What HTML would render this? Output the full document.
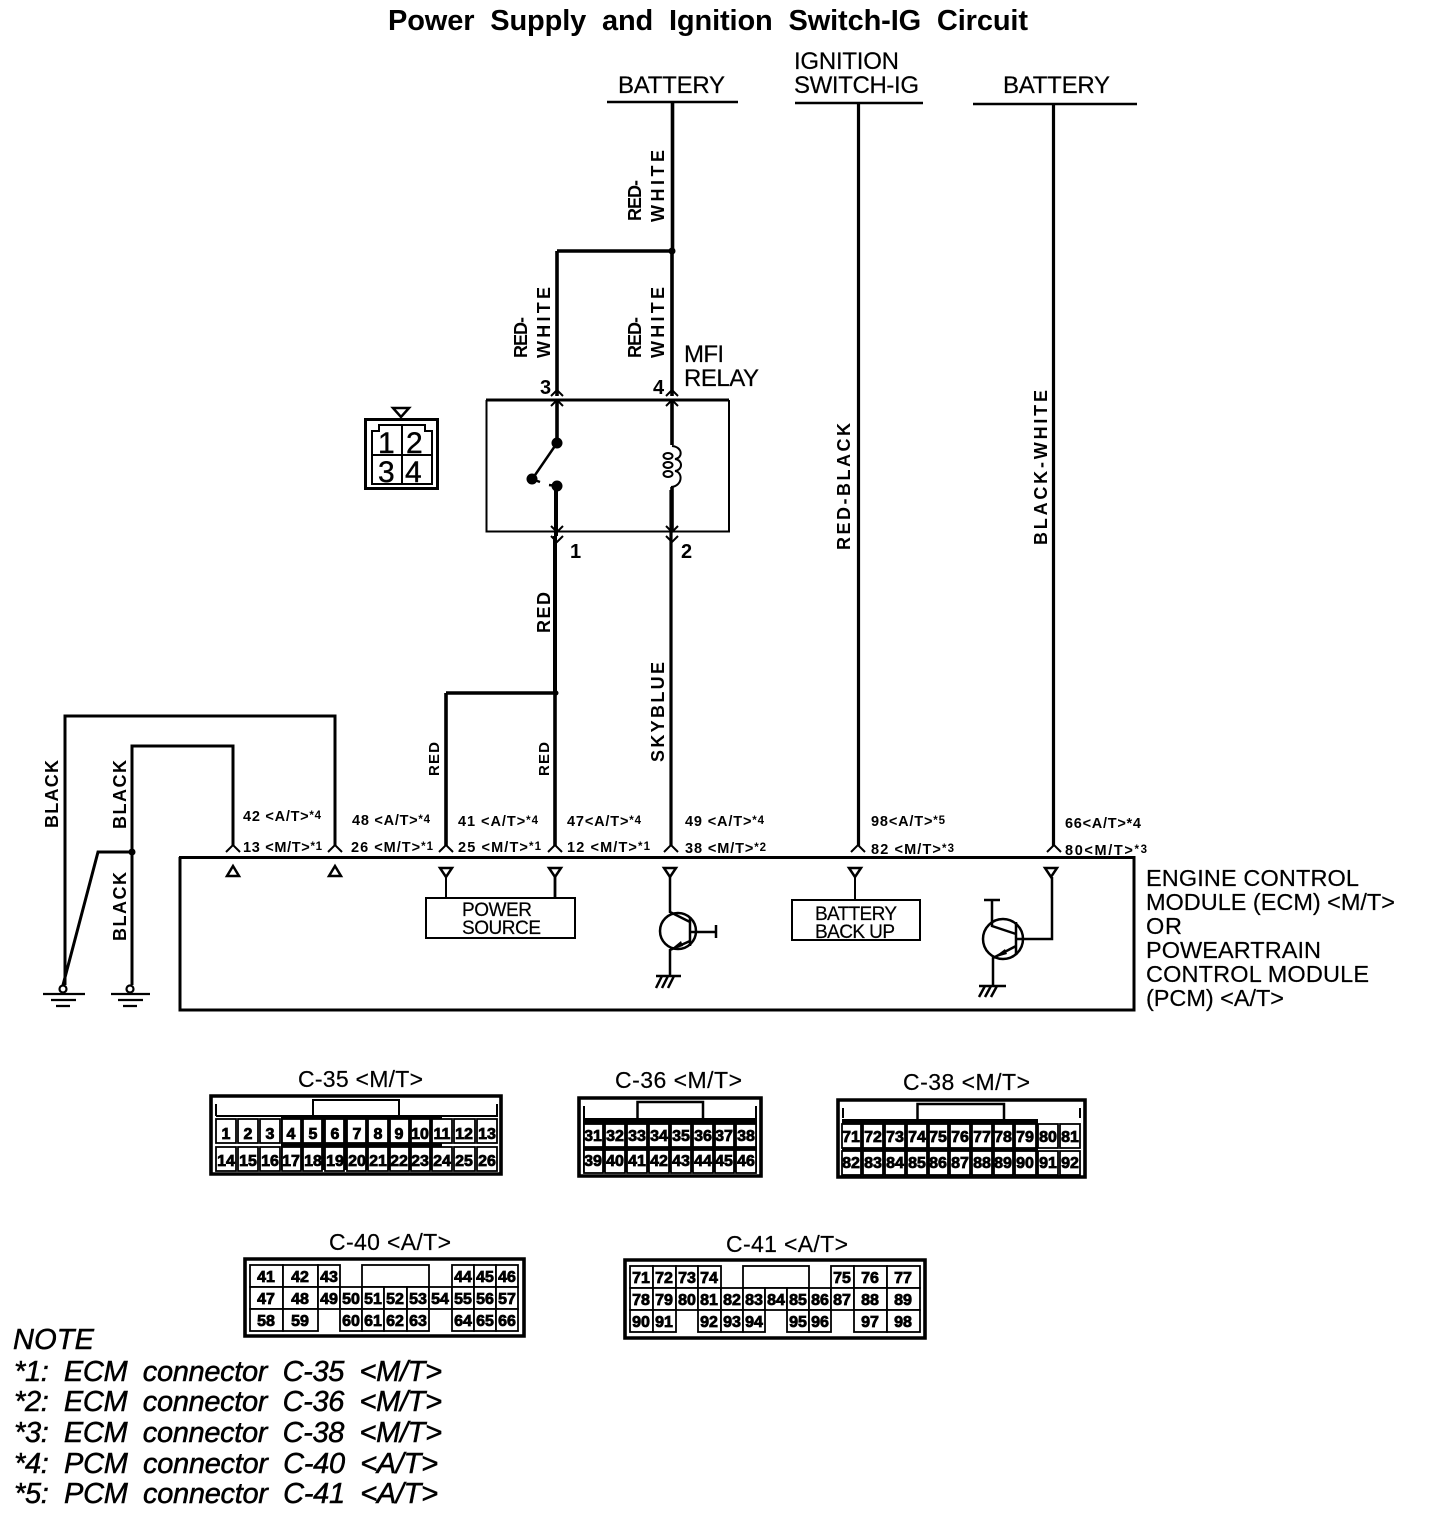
<!DOCTYPE html>
<html><head><meta charset="utf-8"><title>Power Supply and Ignition Switch-IG Circuit</title>
<style>
html,body{margin:0;padding:0;background:#fff}
svg{display:block}
text{font-family:"Liberation Sans",sans-serif;fill:#000}
.t{font-size:24px;stroke:#000;stroke-width:.2}
.p{font-size:14.5px;font-weight:bold}
.p tspan{font-size:11.5px}
.v{font-size:18px;font-weight:bold}
.n{font-size:29px;font-style:italic;stroke:#000;stroke-width:.5}
.c{font-size:16px;font-weight:bold;text-anchor:middle;stroke:#000;stroke-width:.8}
.h{font-size:23px;stroke:#000;stroke-width:.2}
.w{fill:none;stroke:#000;stroke-width:3.6}
.l{fill:none;stroke:#000;stroke-width:2}
.b{fill:#000}
.wc{fill:#fff;stroke:#000;stroke-width:1.8}
</style></head><body>
<svg xmlns="http://www.w3.org/2000/svg" width="1440" height="1534" viewBox="0 0 1440 1534">
<rect width="1440" height="1534" fill="#fff"/>
<text x="388" y="30" font-size="29" font-weight="bold" textLength="640" xml:space="preserve">Power  Supply  and  Ignition  Switch-IG  Circuit</text>

<text class="t" x="618" y="93" textLength="107">BATTERY</text>
<text class="t" x="794" y="69" textLength="105">IGNITION</text>
<text class="t" x="794" y="93" textLength="125">SWITCH-IG</text>
<text class="t" x="1003" y="93" textLength="107">BATTERY</text>
<path class="w" style="stroke-width:2.600" d="M607 102H738M795 103H923M973 104H1137"/>

<!-- main wires -->
<path class="w" d="M672.500 103V251M672 251V396M557 251H672M557 251V396"/>
<path class="w" style="stroke-width:3.200" d="M858.500 104V846M1053.500 105V846"/>
<path class="w" style="stroke-width:4" d="M556 486V536M555 536V693"/>
<path class="w" d="M555 693V846M446 693H556M446 693V846"/>
<path class="w" style="stroke-width:3.200" d="M671 490V846"/>
<path class="w" style="stroke-width:3" d="M335 846V716H65V985M233 846V746H132V985"/>
<path class="w" style="stroke-width:3" d="M132 852H98L63 985"/>
<circle class="b" cx="672" cy="251" r="3.500"/><circle class="b" cx="132" cy="852" r="3.500"/><circle class="b" cx="556" cy="693" r="2.500"/>

<!-- relay -->
<path class="l" d="M486.500 400V531.500H729V400"/>
<path class="w" style="stroke-width:3" d="M486 400H729"/>
<path class="w" d="M557 400V443"/>
<path class="w" d="M672 400V445"/>
<path class="w" d="M672 487V532"/>
<circle class="b" cx="557" cy="443" r="5.500"/>
<circle class="b" cx="532" cy="479" r="5.500"/>
<circle class="b" cx="557" cy="486" r="5.500"/>
<path class="l" style="stroke-width:2.500" d="M557 443L533 478M532 479L540 482M557 486L549 485"/>
<path class="l" d="M672 446C683 447 683 458 675 459C683 460 683 470 675 471C683 472 683 486 671 487"/>
<ellipse class="l" cx="668" cy="456" rx="4.500" ry="3"/><ellipse class="l" cx="668" cy="465" rx="4.500" ry="3"/><ellipse class="l" cx="668" cy="474" rx="4.500" ry="3"/>
<path class="l" d="M551 396L557 390L563 396M551 406L557 400L563 406M666 396L672 390L678 396M666 406L672 400L678 406M551 526L557 532L563 526M551 536L557 542L563 536M666 526L672 532L678 526M666 536L672 542L678 536"/>
<g font-size="20" font-weight="bold">
<text x="540" y="394">3</text><text x="653" y="394">4</text><text x="570" y="558">1</text><text x="681" y="558">2</text>
</g>
<text class="t" x="684" y="362" textLength="40">MFI</text>
<text class="t" x="684" y="386" textLength="75">RELAY</text>

<!-- relay connector -->
<path class="w" style="stroke-width:3" d="M365.500 419.500H437.500V488.500H365.500Z"/>
<path class="l" d="M372 431H379V425H425V431H432V484H372ZM372 455H432M402 425V484"/>
<path class="l" style="stroke-width:2.500" d="M393 408H409L401 417Z"/>
<g font-size="30" stroke="#000" stroke-width=".4">
<text x="378" y="453">1</text><text x="406" y="453">2</text>
<text x="378" y="482">3</text><text x="405" y="482">4</text>
</g>

<!-- vertical labels -->
<g class="v">
<text transform="translate(641 221) rotate(-90)" textLength="41">RED-</text>
<text transform="translate(664 222) rotate(-90)" textLength="72">WHITE</text>
<text transform="translate(641 358) rotate(-90)" textLength="41">RED-</text>
<text transform="translate(664 358) rotate(-90)" textLength="71">WHITE</text>
<text transform="translate(527 358) rotate(-90)" textLength="41">RED-</text>
<text transform="translate(550 358) rotate(-90)" textLength="71">WHITE</text>
<text transform="translate(850 550) rotate(-90)" textLength="127">RED-BLACK</text>
<text transform="translate(1047 545) rotate(-90)" textLength="155">BLACK-WHITE</text>
<text transform="translate(664 762) rotate(-90)" textLength="100">SKYBLUE</text>
<text transform="translate(550 633) rotate(-90)" textLength="41">RED</text>
<text transform="translate(439 776) rotate(-90)" textLength="34" style="font-size:15px">RED</text>
<text transform="translate(549 776) rotate(-90)" textLength="34" style="font-size:15px">RED</text>
<text transform="translate(58 828) rotate(-90)" textLength="68">BLACK</text>
<text transform="translate(126 829) rotate(-90)" textLength="69">BLACK</text>
<text transform="translate(126 941) rotate(-90)" textLength="69">BLACK</text>
</g>

<!-- module box -->
<path class="w" style="stroke-width:3" d="M179 857.500H1134V1010H180V857"/>
<path class="l" d="M226 852L233 845L240 852M328 852L335 845L342 852M439 852L446 845L453 852M548 852L555 845L562 852M664 852L671 845L678 852M851 852L858 845L865 852M1047 852L1054 845L1061 852"/>
<path class="l" style="stroke-width:2.500" d="M233 866L227 876H239ZM335 866L329 876H341ZM440 868H452L446 877ZM549 868H561L555 877ZM664 868H676L670 877ZM849 868H861L855 877ZM1045 868H1057L1051 877Z"/>
<path class="l" d="M446 877V898"/><path class="l" style="stroke-width:2.800" d="M555 877V898"/>
<path class="l" d="M855 877V900"/>
<rect class="l" x="426" y="898" width="149" height="40"/>
<rect class="l" x="792" y="900" width="128" height="40"/>
<g font-size="19" stroke="#000" stroke-width=".2">
<text x="462" y="916" textLength="70">POWER</text><text x="462" y="934" textLength="79">SOURCE</text>
<text x="815" y="920" textLength="82">BATTERY</text><text x="815" y="938" textLength="80">BACK UP</text>
</g>

<!-- pin labels -->
<g class="p">
<text x="243" y="821" textLength="78">42 &lt;A/T&gt;<tspan dy="-2">*4</tspan></text>
<text x="352" y="825" textLength="78">48 &lt;A/T&gt;<tspan dy="-2">*4</tspan></text>
<text x="458" y="826" textLength="80">41 &lt;A/T&gt;<tspan dy="-2">*4</tspan></text>
<text x="567" y="826" textLength="74">47&lt;A/T&gt;<tspan dy="-2">*4</tspan></text>
<text x="685" y="826" textLength="79">49 &lt;A/T&gt;<tspan dy="-2">*4</tspan></text>
<text x="871" y="826" textLength="74">98&lt;A/T&gt;<tspan dy="-2">*5</tspan></text>
<text x="1065" y="828" textLength="76">66&lt;A/T&gt;*4</text>
<text x="243" y="852" textLength="79">13 &lt;M/T&gt;<tspan dy="-2">*1</tspan></text>
<text x="351" y="852" textLength="82">26 &lt;M/T&gt;<tspan dy="-2">*1</tspan></text>
<text x="458" y="852" textLength="83">25 &lt;M/T&gt;<tspan dy="-2">*1</tspan></text>
<text x="567" y="852" textLength="83">12 &lt;M/T&gt;<tspan dy="-2">*1</tspan></text>
<text x="685" y="853" textLength="81">38 &lt;M/T&gt;<tspan dy="-2">*2</tspan></text>
<text x="871" y="854" textLength="83">82 &lt;M/T&gt;<tspan dy="-2">*3</tspan></text>
<text x="1065" y="855" textLength="82">80&lt;M/T&gt;<tspan dy="-2">*3</tspan></text>
</g>

<!-- transistors -->
<g class="l" style="stroke-width:2.500">
<circle cx="678" cy="931" r="18"/>
<path d="M670 877V912L690 922M690 917V946M690 932H716M716 925V938M690 941L670 950V976"/>
<path d="M656 976H681M656 988L662 976M662 988L668 976M668 988L674 976"/>
<circle cx="1003" cy="939" r="20"/>
<path d="M1052 877V939H1016M1016 922V955M992 900V926L1016 934M984 900H1000M1016 946L993 958V986"/>
<path d="M979 986H1006M979 997L985 986M985 997L991 986M991 997L997 986"/>
</g>
<path class="b" d="M670 950L681 941L683 946ZM993 958L1005 949L1007 954Z"/>

<!-- grounds -->
<g class="l" style="stroke-width:2.200">
<circle cx="63" cy="989" r="3.500"/><path d="M43 994H85M51 1000H76M56 1006H70"/>
<circle cx="130" cy="989" r="3.500"/><path d="M111 994H150M118 1000H143M123 1006H137"/>
</g>

<!-- module text -->
<g font-size="23.500" stroke="#000" stroke-width=".2">
<text x="1146" y="886" textLength="213">ENGINE CONTROL</text>
<text x="1146" y="910" textLength="249">MODULE (ECM) &lt;M/T&gt;</text>
<text x="1146" y="934" textLength="36">OR</text>
<text x="1146" y="958" textLength="175">POWEARTRAIN</text>
<text x="1146" y="982" textLength="223">CONTROL MODULE</text>
<text x="1146" y="1006" textLength="138">(PCM) &lt;A/T&gt;</text>
</g>

<!-- C-35 -->
<text class="h" x="298" y="1087" textLength="125">C-35 &lt;M/T&gt;</text>
<path class="w" d="M211 1096H501V1174H211Z"/>
<path class="l" d="M216 1116V1104M216 1116H497V1104M313 1116V1100H399V1116"/>
<rect class="b" x="281" y="1116" width="161" height="54"/>
<g class="wc">
<rect x="216" y="1119" width="20" height="24"/><rect x="238" y="1119" width="20" height="24"/><rect x="260" y="1119" width="20" height="24"/><rect x="282" y="1119" width="19" height="24"/><rect x="303" y="1119" width="19" height="24"/><rect x="325" y="1119" width="19" height="24"/><rect x="347" y="1119" width="19" height="24"/><rect x="368" y="1119" width="20" height="24"/><rect x="390" y="1119" width="19" height="24"/><rect x="411" y="1119" width="19" height="24"/><rect x="432" y="1119" width="20" height="24"/><rect x="454" y="1119" width="21" height="24"/><rect x="477" y="1119" width="20" height="24"/>
<rect x="216" y="1147" width="20" height="24"/><rect x="238" y="1147" width="20" height="24"/><rect x="260" y="1147" width="20" height="24"/><rect x="282" y="1147" width="19" height="24"/><rect x="303" y="1147" width="19" height="24"/><rect x="325" y="1147" width="19" height="24"/><rect x="347" y="1147" width="19" height="24"/><rect x="368" y="1147" width="20" height="24"/><rect x="390" y="1147" width="19" height="24"/><rect x="411" y="1147" width="19" height="24"/><rect x="432" y="1147" width="20" height="24"/><rect x="454" y="1147" width="21" height="24"/><rect x="477" y="1147" width="20" height="24"/>
</g>
<g class="c">
<text x="226" y="1139">1</text><text x="248" y="1139">2</text><text x="270" y="1139">3</text><text x="291" y="1139">4</text><text x="313" y="1139">5</text><text x="335" y="1139">6</text><text x="357" y="1139">7</text><text x="378" y="1139">8</text><text x="399" y="1139">9</text><text x="420" y="1139">10</text><text x="442" y="1139">11</text><text x="464" y="1139">12</text><text x="487" y="1139">13</text>
<text x="226" y="1166">14</text><text x="248" y="1166">15</text><text x="270" y="1166">16</text><text x="291" y="1166">17</text><text x="313" y="1166">18</text><text x="335" y="1166">19</text><text x="357" y="1166">20</text><text x="378" y="1166">21</text><text x="399" y="1166">22</text><text x="420" y="1166">23</text><text x="442" y="1166">24</text><text x="464" y="1166">25</text><text x="487" y="1166">26</text>
</g>

<!-- C-36 -->
<text class="h" x="615" y="1088" textLength="127">C-36 &lt;M/T&gt;</text>
<path class="w" d="M579 1098H761V1176H579Z"/>
<path class="l" d="M584 1118V1106M756 1118V1106"/>
<path class="w" style="stroke-width:2.500" d="M637.500 1118V1102H703V1118"/>
<rect class="b" x="583" y="1118" width="174" height="54"/>
<g class="wc">
<rect x="584" y="1124" width="19" height="23"/><rect x="605" y="1124" width="20" height="23"/><rect x="627" y="1124" width="20" height="23"/><rect x="649" y="1124" width="20" height="23"/><rect x="671" y="1124" width="20" height="23"/><rect x="693" y="1124" width="20" height="23"/><rect x="715" y="1124" width="19" height="23"/><rect x="736" y="1124" width="20" height="23"/>
<rect x="584" y="1150" width="19" height="23"/><rect x="605" y="1150" width="20" height="23"/><rect x="627" y="1150" width="20" height="23"/><rect x="649" y="1150" width="20" height="23"/><rect x="671" y="1150" width="20" height="23"/><rect x="693" y="1150" width="20" height="23"/><rect x="715" y="1150" width="19" height="23"/><rect x="736" y="1150" width="20" height="23"/>
</g>
<g class="c">
<text x="593" y="1141">31</text><text x="615" y="1141">32</text><text x="637" y="1141">33</text><text x="659" y="1141">34</text><text x="681" y="1141">35</text><text x="703" y="1141">36</text><text x="724" y="1141">37</text><text x="746" y="1141">38</text>
<text x="593" y="1166">39</text><text x="615" y="1166">40</text><text x="637" y="1166">41</text><text x="659" y="1166">42</text><text x="681" y="1166">43</text><text x="703" y="1166">44</text><text x="724" y="1166">45</text><text x="746" y="1166">46</text>
</g>

<!-- C-38 -->
<text class="h" x="903" y="1090" textLength="127">C-38 &lt;M/T&gt;</text>
<path class="w" d="M838 1100H1085V1177H838Z"/>
<path class="l" d="M843 1118V1108M1080 1118V1108"/>
<path class="w" style="stroke-width:2.500" d="M917.500 1119V1104H1004V1119"/>
<rect class="b" x="842" y="1119" width="196" height="56"/>
<g class="wc">
<rect x="842" y="1124" width="19" height="24"/><rect x="863" y="1124" width="20" height="24"/><rect x="885" y="1124" width="20" height="24"/><rect x="907" y="1124" width="20" height="24"/><rect x="929" y="1124" width="19" height="24"/><rect x="950" y="1124" width="20" height="24"/><rect x="972" y="1124" width="20" height="24"/><rect x="994" y="1124" width="19" height="24"/><rect x="1015" y="1124" width="21" height="24"/><rect x="1038" y="1124" width="20" height="24"/><rect x="1060" y="1124" width="20" height="24"/>
<rect x="842" y="1151" width="19" height="24"/><rect x="863" y="1151" width="20" height="24"/><rect x="885" y="1151" width="20" height="24"/><rect x="907" y="1151" width="20" height="24"/><rect x="929" y="1151" width="19" height="24"/><rect x="950" y="1151" width="20" height="24"/><rect x="972" y="1151" width="20" height="24"/><rect x="994" y="1151" width="19" height="24"/><rect x="1015" y="1151" width="21" height="24"/><rect x="1038" y="1151" width="20" height="24"/><rect x="1060" y="1151" width="20" height="24"/>
</g>
<g class="c">
<text x="851" y="1142">71</text><text x="873" y="1142">72</text><text x="895" y="1142">73</text><text x="917" y="1142">74</text><text x="938" y="1142">75</text><text x="960" y="1142">76</text><text x="982" y="1142">77</text><text x="1003" y="1142">78</text><text x="1025" y="1142">79</text><text x="1048" y="1142">80</text><text x="1070" y="1142">81</text>
<text x="851" y="1168">82</text><text x="873" y="1168">83</text><text x="895" y="1168">84</text><text x="917" y="1168">85</text><text x="938" y="1168">86</text><text x="960" y="1168">87</text><text x="982" y="1168">88</text><text x="1003" y="1168">89</text><text x="1025" y="1168">90</text><text x="1048" y="1168">91</text><text x="1070" y="1168">92</text>
</g>

<!-- C-40 -->
<text class="h" x="329" y="1250" textLength="122">C-40 &lt;A/T&gt;</text>
<path class="w" d="M245 1259H524V1336H245Z"/>
<g class="wc">
<rect x="250" y="1265" width="33" height="22"/><rect x="283" y="1265" width="35" height="22"/><rect x="318" y="1265" width="22" height="22"/><rect x="362" y="1265" width="67" height="22"/><rect x="452" y="1265" width="22" height="22"/><rect x="474" y="1265" width="22" height="22"/><rect x="496" y="1265" width="22" height="22"/>
<rect x="250" y="1287" width="33" height="22"/><rect x="283" y="1287" width="35" height="22"/><rect x="318" y="1287" width="22" height="22"/><rect x="340" y="1287" width="22" height="22"/><rect x="362" y="1287" width="22" height="22"/><rect x="384" y="1287" width="23" height="22"/><rect x="407" y="1287" width="22" height="22"/><rect x="429" y="1287" width="23" height="22"/><rect x="452" y="1287" width="22" height="22"/><rect x="474" y="1287" width="22" height="22"/><rect x="496" y="1287" width="22" height="22"/>
<rect x="250" y="1309" width="33" height="22"/><rect x="283" y="1309" width="35" height="22"/><rect x="340" y="1309" width="22" height="22"/><rect x="362" y="1309" width="22" height="22"/><rect x="384" y="1309" width="23" height="22"/><rect x="407" y="1309" width="22" height="22"/><rect x="452" y="1309" width="22" height="22"/><rect x="474" y="1309" width="22" height="22"/><rect x="496" y="1309" width="22" height="22"/>
</g>
<g class="c">
<text x="266" y="1282">41</text><text x="300" y="1282">42</text><text x="329" y="1282">43</text><text x="463" y="1282">44</text><text x="485" y="1282">45</text><text x="507" y="1282">46</text>
<text x="266" y="1304">47</text><text x="300" y="1304">48</text><text x="329" y="1304">49</text><text x="351" y="1304">50</text><text x="373" y="1304">51</text><text x="395" y="1304">52</text><text x="418" y="1304">53</text><text x="440" y="1304">54</text><text x="463" y="1304">55</text><text x="485" y="1304">56</text><text x="507" y="1304">57</text>
<text x="266" y="1326">58</text><text x="300" y="1326">59</text><text x="351" y="1326">60</text><text x="373" y="1326">61</text><text x="395" y="1326">62</text><text x="418" y="1326">63</text><text x="463" y="1326">64</text><text x="485" y="1326">65</text><text x="507" y="1326">66</text>
</g>

<!-- C-41 -->
<text class="h" x="726" y="1252" textLength="122">C-41 &lt;A/T&gt;</text>
<path class="w" d="M625 1260H925V1338H625Z"/>
<g class="wc">
<rect x="630" y="1266" width="23" height="22"/><rect x="653" y="1266" width="23" height="22"/><rect x="676" y="1266" width="22" height="22"/><rect x="698" y="1266" width="23" height="22"/><rect x="743" y="1266" width="66" height="22"/><rect x="831" y="1266" width="23" height="22"/><rect x="854" y="1266" width="33" height="22"/><rect x="887" y="1266" width="33" height="22"/>
<rect x="630" y="1288" width="23" height="22"/><rect x="653" y="1288" width="23" height="22"/><rect x="676" y="1288" width="22" height="22"/><rect x="698" y="1288" width="23" height="22"/><rect x="721" y="1288" width="22" height="22"/><rect x="743" y="1288" width="22" height="22"/><rect x="765" y="1288" width="22" height="22"/><rect x="787" y="1288" width="22" height="22"/><rect x="809" y="1288" width="22" height="22"/><rect x="831" y="1288" width="23" height="22"/><rect x="854" y="1288" width="33" height="22"/><rect x="887" y="1288" width="33" height="22"/>
<rect x="630" y="1310" width="23" height="22"/><rect x="653" y="1310" width="23" height="22"/><rect x="698" y="1310" width="23" height="22"/><rect x="721" y="1310" width="22" height="22"/><rect x="743" y="1310" width="22" height="22"/><rect x="787" y="1310" width="22" height="22"/><rect x="809" y="1310" width="22" height="22"/><rect x="854" y="1310" width="33" height="22"/><rect x="887" y="1310" width="33" height="22"/>
</g>
<g class="c">
<text x="641" y="1283">71</text><text x="664" y="1283">72</text><text x="687" y="1283">73</text><text x="709" y="1283">74</text><text x="842" y="1283">75</text><text x="870" y="1283">76</text><text x="903" y="1283">77</text>
<text x="641" y="1305">78</text><text x="664" y="1305">79</text><text x="687" y="1305">80</text><text x="709" y="1305">81</text><text x="732" y="1305">82</text><text x="754" y="1305">83</text><text x="776" y="1305">84</text><text x="798" y="1305">85</text><text x="820" y="1305">86</text><text x="842" y="1305">87</text><text x="870" y="1305">88</text><text x="903" y="1305">89</text>
<text x="641" y="1327">90</text><text x="664" y="1327">91</text><text x="709" y="1327">92</text><text x="732" y="1327">93</text><text x="754" y="1327">94</text><text x="798" y="1327">95</text><text x="820" y="1327">96</text><text x="870" y="1327">97</text><text x="903" y="1327">98</text>
</g>

<!-- notes -->
<g class="n">
<text x="13" y="1349" textLength="81">NOTE</text>
<text x="14" y="1381" textLength="428" xml:space="preserve">*1:  ECM  connector  C-35  &lt;M/T&gt;</text>
<text x="14" y="1411" textLength="428" xml:space="preserve">*2:  ECM  connector  C-36  &lt;M/T&gt;</text>
<text x="14" y="1442" textLength="428" xml:space="preserve">*3:  ECM  connector  C-38  &lt;M/T&gt;</text>
<text x="14" y="1473" textLength="424" xml:space="preserve">*4:  PCM  connector  C-40  &lt;A/T&gt;</text>
<text x="14" y="1503" textLength="424" xml:space="preserve">*5:  PCM  connector  C-41  &lt;A/T&gt;</text>
</g>
</svg>
</body></html>
